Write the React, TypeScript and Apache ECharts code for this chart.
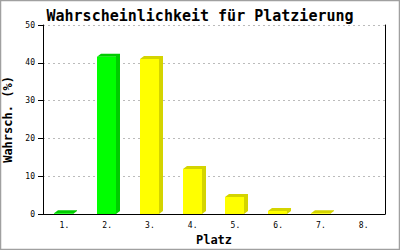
import React, { useEffect, useRef } from "react";
import * as echarts from "echarts";

const categories = ["1.", "2.", "3.", "4.", "5.", "6.", "7.", "8."];
const probabilities = [0.2, 41.6, 41.0, 11.9, 4.5, 0.8, 0.2, 0];
const yTicks = [0, 10, 20, 30, 40, 50];
const greenPlaces = ["1.", "2."];

const MONO = "'DejaVu Sans Mono', 'Liberation Mono', monospace";

export default function App() {
  const ref = useRef<HTMLDivElement>(null);
  useEffect(() => {
    document.body.style.margin = "0";
    const chart = echarts.init(ref.current!, null, { renderer: "svg" });
    const option: any = {
      animation: false,
      backgroundColor: "#ffffff",
      title: {
        text: "Wahrscheinlichkeit für Platzierung",
        left: "center",
        top: 3,
        textStyle: { fontFamily: MONO, fontWeight: "bold", fontSize: 15, color: "#000" },
      },
      graphic: [
        {
          type: "rect",
          shape: { x: 0.5, y: 0.5, width: 399, height: 249 },
          style: { fill: "none", stroke: "#a0a0a0", lineWidth: 1.5 },
          silent: true,
        },
      ],
      grid: { left: 43, right: 15, top: 25, bottom: 36, containLabel: false, outerBoundsMode: "none" },
      xAxis: {
        type: "category",
        data: categories,
        boundaryGap: true,
        name: "Platz",
        nameLocation: "middle",
        nameGap: 20,
        nameTextStyle: { fontFamily: MONO, fontWeight: "bold", fontSize: 12, color: "#000" },
        axisLine: { show: true, lineStyle: { color: "#000", width: 1 } },
        axisTick: { show: false },
        axisLabel: { fontFamily: MONO, fontSize: 8, color: "#000", margin: 7 },
        splitLine: { show: false },
      },
      yAxis: [
        {
          type: "value",
          min: yTicks[0],
          max: yTicks[yTicks.length - 1],
          interval: 10,
          name: "Wahrsch. (%)",
          nameLocation: "middle",
          nameGap: 25,
          nameTextStyle: { fontFamily: MONO, fontWeight: "bold", fontSize: 12, color: "#000" },
          axisLine: { show: true, lineStyle: { color: "#000", width: 1 } },
          axisTick: { show: true, length: 5, lineStyle: { color: "#000" } },
          axisLabel: { fontFamily: MONO, fontSize: 8, color: "#000", margin: 8 },
          splitLine: { show: true, lineStyle: { color: "#bbbbbb", type: [2, 3], width: 1 } },
        },
        {
          type: "value",
          position: "right",
          min: yTicks[0],
          max: yTicks[yTicks.length - 1],
          interval: 10,
          axisLine: { show: true, lineStyle: { color: "#000", width: 1 } },
          axisTick: { show: false },
          axisLabel: { show: false },
          splitLine: { show: false },
        },
      ],
      series: [
        {
          type: "custom",
          data: probabilities.map((v, i) => [i, v]),
          encode: { x: 0, y: 1 },
          renderItem: (params: any, api: any) => {
            const idx = api.value(0);
            const v = api.value(1);
            if (!(v > 0)) return { type: "group", children: [] };
            const top = api.coord([idx, v]);
            const base = api.coord([idx, 0]);
            const w = 19;
            const dx = 4;
            const dy = 3;
            const x0 = Math.round(top[0] - 10);
            const x1 = x0 + w;
            const yt = top[1];
            const yb = base[1];
            const green = greenPlaces.includes(categories[idx]);
            const front = green ? "#00ff00" : "#ffff00";
            const side = green ? "#00cc00" : "#d4d400";
            return {
              type: "group",
              children: [
                {
                  type: "polygon",
                  shape: {
                    points: [
                      [x0, yt],
                      [x0 + dx, yt - dy],
                      [x1 + dx, yt - dy],
                      [x1 + dx, yb - dy],
                      [x1, yb],
                      [x1, yt],
                    ],
                  },
                  style: { fill: side },
                },
                {
                  type: "rect",
                  shape: { x: x0, y: yt, width: w, height: Math.max(0, yb - yt) },
                  style: { fill: front },
                },
              ],
            };
          },
        },
      ],
    };
    chart.setOption(option);
    return () => chart.dispose();
  }, []);
  return <div ref={ref} style={{ width: 400, height: 250 }} />;
}
